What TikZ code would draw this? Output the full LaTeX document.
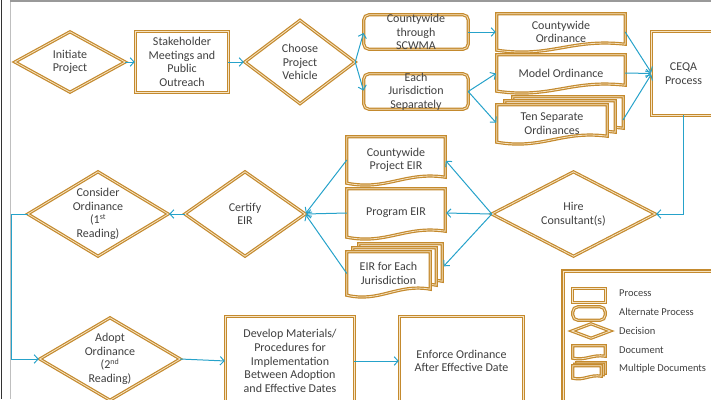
\documentclass[tikz,border=0pt]{standalone}
\usepackage{fontspec}
\setmainfont{Carlito}
\usetikzlibrary{arrows.meta,calc,backgrounds}

\definecolor{gold}{RGB}{196,138,46}
\definecolor{goldpale}{RGB}{246,228,196}
\definecolor{flow}{RGB}{38,162,202}
\definecolor{ink}{RGB}{64,64,64}

\tikzset{
  goldline/.style={draw=gold, double=goldpale, double distance=0.8pt, line width=1.2pt, fill=white},
  box/.style={font=\fontsize{12}{13.6}\selectfont, text=ink, align=center, inner sep=0pt},
  legtxt/.style={font=\fontsize{10.5}{12}\selectfont, text=ink, anchor=west, inner sep=0pt},
  flowline/.style={draw=flow, line width=1pt, ->, shorten >=1pt},
}

% outlines drawn round the named nodes
\newcommand\procshape[1]{\draw[goldline] (#1.south west) rectangle (#1.north east);}
\newcommand\altshape[1]{\draw[goldline,rounded corners=5pt] (#1.south west) rectangle (#1.north east);}
\newcommand\decshape[1]{\draw[goldline] (#1.west) -- (#1.north) -- (#1.east) -- (#1.south) -- cycle;}
\newcommand\docshape[3][6]{%
  \draw[goldline] ($(#2.north west)+(#3)$) -- ($(#2.north east)+(#3)$)
    -- ($(#2.south east)+(#3)+(0,-#1)$)
    .. controls ($(#2.south)+(#3)+(1.6*#1,-2*#1)$) and ($(#2.south)+(#3)+(-1.6*#1,1.3*#1)$)
    .. ($(#2.south west)+(#3)$) -- cycle;}
\newcommand\mdocshape[4][6]{\docshape[#1]{#2}{#4}\docshape[#1]{#2}{#3}\docshape[#1]{#2}{0,0}}

\begin{document}
\begin{tikzpicture}[x=1pt,y=-1pt,>={Straight Barb[length=4pt,width=8.5pt]}]
  \useasboundingbox (0,0) rectangle (711,399);
  % page edges
  \draw[line width=1.5pt, black!80] (1.5,0) -- (1.5,399);
  \draw[line width=0.6pt, black!25] (10.5,0) -- (10.5,399);
  \draw[line width=2pt, black!40] (10,1) -- (711,1);

  % first row
  \node[box, minimum width=110pt, minimum height=60pt] (init) at (70,62) {Initiate\\Project};
  \node[box, minimum width=92pt, minimum height=60pt] (stake) at (182,62) {Stakeholder\\Meetings and\\Public\\Outreach};
  \node[box, minimum width=110pt, minimum height=83pt] (choose) at (300,62) {Choose\\Project\\Vehicle};
  \node[box, minimum width=104pt, minimum height=34pt, inner ysep=-3pt] (scwma) at (416,32) {Countywide\\through\\SCWMA};
  \node[box, minimum width=104pt, minimum height=35pt, inner ysep=-3pt] (each) at (416,91.5) {Each\\Jurisdiction\\Separately};
  \node[box, minimum width=128pt, minimum height=36pt] (cord) at (561,32) {Countywide\\Ordinance};
  \node[box, minimum width=128pt, minimum height=36pt] (mord) at (561,73) {Model Ordinance};
  \node[box, minimum width=110pt, minimum height=37pt] (tenord) at (552,123.5) {Ten Separate\\Ordinances};
  \coordinate (tenback) at (623,120);
  \node[box, minimum width=63pt, minimum height=83pt] (ceqa) at (683.5,73.5) {CEQA\\Process};

  % second row
  \node[box, minimum width=163pt, minimum height=84pt] (hire) at (573.5,214) {Hire\\Consultant(s)};
  \node[box, minimum width=98pt, minimum height=46pt] (cpeir) at (396,160) {Countywide\\Project EIR};
  \node[box, minimum width=98pt, minimum height=48pt] (peir) at (396,213) {Program EIR};
  \node[box, minimum width=83pt, minimum height=43pt] (eacheir) at (388.5,273.5) {EIR for Each\\Jurisdiction};
  \coordinate (eachback) at (443,267);
  \node[box, minimum width=120pt, minimum height=84pt] (certify) at (245,214) {Certify\\EIR};
  \node[box, minimum width=140pt, minimum height=84pt] (consider) at (98,214) {Consider\\Ordinance\\(1\textsuperscript{st}\\Reading)};

  % third row
  \node[box, minimum width=140pt, minimum height=82pt] (adopt) at (110,359) {Adopt\\Ordinance\\(2\textsuperscript{nd}\\Reading)};
  \node[box, minimum width=128pt, minimum height=88pt] (develop) at (290,361) {Develop Materials/\\Procedures for\\Implementation\\Between Adoption\\and Effective Dates};
  \node[box, minimum width=123pt, minimum height=88pt] (enforce) at (461.5,361) {Enforce Ordinance\\After Effective Date};

  % legend
  \node[box, minimum width=32pt, minimum height=14pt] (lgproc) at (589,295.5) {};
  \node[box, minimum width=32pt, minimum height=13pt] (lgalt) at (589,313.5) {};
  \node[box, minimum width=38pt, minimum height=14pt] (lgdec) at (591,331) {};
  \node[box, minimum width=32pt, minimum height=12pt] (lgdoc) at (589,352) {};
  \node[box, minimum width=28pt, minimum height=12pt] (lgmdoc) at (587,372) {};
  \foreach \y/\lbl in {293/Process, 312/Alternate Process, 331/Decision,
    350/Document, 369/Multiple Documents}
  {
    \node[legtxt] (leg\y) at (619,\y) {\lbl};
  }

  % connectors
  \draw[flowline] (init.east) -- (stake.west);
  \draw[flowline] (stake.east) -- (choose.west);
  \draw[flowline] (choose.east) -- (scwma.west);
  \draw[flowline] (choose.east) -- (each.west);
  \draw[flowline] (scwma.east) -- (cord.west);
  \draw[flowline] (each.east) -- (mord.west);
  \draw[flowline] (each.east) -- (tenord.west);
  \draw[flowline] (cord.east) -- (ceqa.west);
  \draw[flowline] (mord.east) -- (ceqa.west);
  \draw[flowline] (tenback) -- (ceqa.west);
  \draw[flowline] (ceqa.south) |- (hire.east);
  \draw[flowline] (hire.west) -- (cpeir.east);
  \draw[flowline] (hire.west) -- (peir.east);
  \draw[flowline] (hire.west) -- (eachback);
  \draw[flowline] (cpeir.west) -- (certify.east);
  \draw[flowline] (peir.west) -- (certify.east);
  \draw[flowline] (eacheir.west) -- (certify.east);
  \draw[flowline] (certify.west) -- (consider.east);
  \draw[flowline] (consider.west) -- ++(-16,0) |- (adopt.west);
  \draw[flowline] (adopt.east) -- (develop.west);
  \draw[flowline] (develop.east) -- (enforce.west);

  \begin{pgfonlayer}{background}
    \decshape{init} \procshape{stake} \decshape{choose}
    \altshape{scwma} \altshape{each}
    \docshape{cord}{0,0} \docshape{mord}{0,0}
    \mdocshape{tenord}{8,-4}{16,-8}
    \procshape{ceqa}
    \decshape{hire}
    \docshape{cpeir}{0,0} \docshape{peir}{0,0}
    \mdocshape{eacheir}{6,-4}{12,-8}
    \decshape{certify} \decshape{consider}
    \decshape{adopt} \procshape{develop} \procshape{enforce}
    % legend frame and symbols
    \draw[goldline] (563,271) rectangle (725,410);
    \procshape{lgproc} \altshape{lgalt} \decshape{lgdec}
    \docshape[2]{lgdoc}{0,0}
    \mdocshape[2]{lgmdoc}{2,-1.5}{4,-3}
  \end{pgfonlayer}
\end{tikzpicture}
\end{document}
